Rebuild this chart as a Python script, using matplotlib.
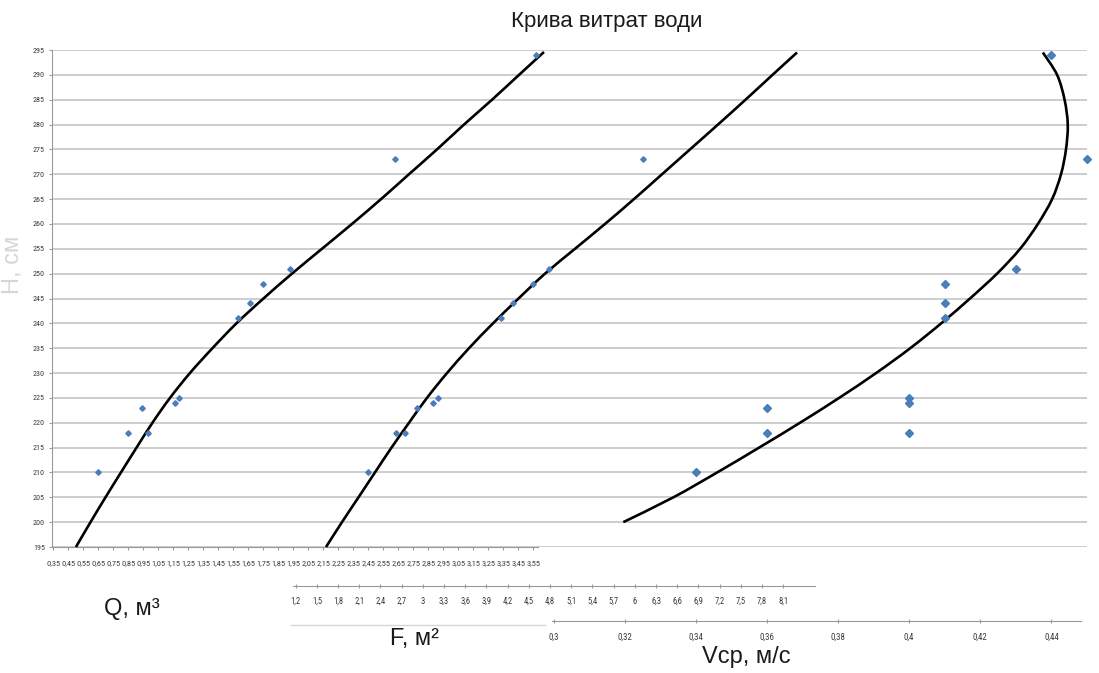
import matplotlib
matplotlib.use("Agg")
import matplotlib.pyplot as plt
from matplotlib import font_manager as fm
from matplotlib.ticker import FixedLocator, FuncFormatter
from matplotlib.lines import Line2D
from matplotlib.path import Path
from matplotlib.patches import PathPatch

# ---------------- data ----------------
h_ticks = [195, 200, 205, 210, 215, 220, 225, 230, 235, 240, 245, 250,
           255, 260, 265, 270, 275, 280, 285, 290, 295]
q_ticks = [0.35, 0.45, 0.55, 0.65, 0.75, 0.85, 0.95, 1.05, 1.15, 1.25, 1.35,
           1.45, 1.55, 1.65, 1.75, 1.85, 1.95, 2.05, 2.15, 2.25, 2.35, 2.45,
           2.55, 2.65, 2.75, 2.85, 2.95, 3.05, 3.15, 3.25, 3.35, 3.45, 3.55]
f_ticks = [1.2, 1.5, 1.8, 2.1, 2.4, 2.7, 3.0, 3.3, 3.6, 3.9, 4.2, 4.5,
           4.8, 5.1, 5.4, 5.7, 6.0, 6.3, 6.6, 6.9, 7.2, 7.5, 7.8, 8.1]
v_ticks = [0.30, 0.32, 0.34, 0.36, 0.38, 0.40, 0.42, 0.44]

# measured points
h_q_pts = [210, 218, 223, 218, 224, 225, 241, 244, 248, 251, 273, 294]
q_pts = [0.65, 0.85, 0.94, 0.98, 1.16, 1.19, 1.58, 1.66, 1.75, 1.93, 2.63, 3.57]

h_f_pts = [210, 218, 218, 223, 224, 225, 241, 244, 248, 251, 273]
f_pts = [2.22, 2.62, 2.75, 2.91, 3.15, 3.21, 4.10, 4.27, 4.56, 4.79, 6.12]

h_v_pts = [210, 223, 218, 225, 224, 218, 248, 244, 241, 251, 294, 273]
v_pts = [0.34, 0.36, 0.36, 0.40, 0.40, 0.40, 0.41, 0.41, 0.41, 0.43, 0.44, 0.45]

# trend curves
h_q_curve = [195, 200, 205, 210, 215, 220, 225, 230, 235, 240, 245, 250,
             255, 260, 265, 270, 275, 280, 285, 290, 294.6]
q_curve = [0.501, 0.598, 0.698, 0.801, 0.905, 1.011, 1.128, 1.261, 1.411,
           1.571, 1.751, 1.941, 2.141, 2.341, 2.535, 2.721, 2.908, 3.088,
           3.275, 3.455, 3.621]

h_f_curve = [195, 200, 205, 210, 215, 220, 225, 230, 235, 240, 245, 250,
             255, 260, 265, 270, 275, 280, 285, 290, 294.5]
f_curve = [1.629, 1.855, 2.089, 2.322, 2.556, 2.804, 3.058, 3.342, 3.653,
           3.993, 4.354, 4.729, 5.153, 5.578, 5.988, 6.385, 6.781, 7.177,
           7.567, 7.949, 8.296]

h_v_curve = [200, 205, 210, 215, 220, 225, 230, 235, 240, 245, 250, 255,
             260, 265, 270, 275, 280, 285, 290, 294.5]
v_curve = [0.3196, 0.3337, 0.3460, 0.3578, 0.3693, 0.3803, 0.3907, 0.4003,
           0.4090, 0.4171, 0.4247, 0.4312, 0.4362, 0.4402, 0.4427, 0.4441,
           0.4446, 0.4437, 0.4416, 0.4376]

title = "Крива витрат води"
y_title = "H, см"
q_title = "Q, м³"
f_title = "F, м²"
v_title = "Vср, м/с"

# ---------------- fonts ----------------
def pick(*names):
    for n in names:
        try:
            fm.findfont(fm.FontProperties(family=n), fallback_to_default=False)
            return n
        except Exception:
            pass
    return "DejaVu Sans"

narrow = pick("Liberation Sans Narrow", "Roboto Condensed", "Liberation Sans")
regular = pick("Liberation Sans", "Roboto", "DejaVu Sans")
tick_scale = 1.0 if narrow != "Liberation Sans" else 0.8

# ---------------- layout ----------------
W, H = 1099, 673
DPI = 100
L, R, T, B = 52, 1087, 50, 547
fig = plt.figure(figsize=(W / DPI, H / DPI), dpi=DPI)
fig.patch.set_facecolor("white")
rect = [L / W, (H - B) / H, (R - L) / W, (B - T) / H]

def px2pt(p):
    return p * 72.0 / DPI

def lims(px0, v0, px_per_unit):
    return (v0 + (L - px0) / px_per_unit, v0 + (R - px0) / px_per_unit)

def fmt(v, pos=None):
    s = "{:g}".format(round(v, 4))
    return s.replace(".", ",")

def smooth_path(xs, ys):
    # Catmull-Rom through the read points, drawn as cubic Bezier segments
    pts = list(zip(xs, ys))
    n = len(pts)
    verts = [pts[0]]
    codes = [Path.MOVETO]
    for i in range(n - 1):
        p0 = pts[i - 1] if i > 0 else pts[i]
        p1 = pts[i]
        p2 = pts[i + 1]
        p3 = pts[i + 2] if i + 2 < n else pts[i + 1]
        c1 = (p1[0] + (p2[0] - p0[0]) / 6.0, p1[1] + (p2[1] - p0[1]) / 6.0)
        c2 = (p2[0] - (p3[0] - p1[0]) / 6.0, p2[1] - (p3[1] - p1[1]) / 6.0)
        verts += [c1, c2, p2]
        codes += [Path.CURVE4] * 3
    return Path(verts, codes)

axis_col = "#9a9a9a"
label_col = "#3a3a3a"
pt_col = "#4a7ebb"

ax = fig.add_axes(rect)
axf = fig.add_axes(rect, sharey=ax)
axv = fig.add_axes(rect, sharey=ax)
for a in (axf, axv):
    a.set_facecolor("none")

ax.set_ylim(195, 295)
ax.yaxis.set_major_locator(FixedLocator(h_ticks))
ax.yaxis.grid(True, color="#c0c0c0", lw=1.1)
ax.set_axisbelow(True)
ax.tick_params(axis="y", direction="out", length=px2pt(3), width=0.8,
               color=axis_col, pad=px2pt(4), labelsize=5.8 * tick_scale,
               labelcolor=label_col)
for lab in ax.get_yticklabels():
    lab.set_family(narrow)

# Q axis
ax.set_xlim(*lims(53.3, 0.35, 150.0))
ax.xaxis.set_major_locator(FixedLocator(q_ticks))
ax.xaxis.set_major_formatter(FuncFormatter(fmt))
ax.tick_params(axis="x", direction="out", length=px2pt(3), width=0.8,
               color=axis_col, pad=px2pt(10), labelsize=6.0 * tick_scale,
               labelcolor=label_col)
for s in ("top", "right"):
    ax.spines[s].set_visible(False)
ax.spines["left"].set_color(axis_col)
ax.spines["bottom"].set_color(axis_col)
ax.spines["bottom"].set_bounds(ax.get_xlim()[0], 3.58)

# F axis
axf.set_xlim(*lims(295.7, 1.2, 70.65))
axf.xaxis.set_major_locator(FixedLocator(f_ticks))
axf.xaxis.set_major_formatter(FuncFormatter(fmt))
axf.tick_params(axis="x", direction="inout", length=px2pt(4), width=0.8,
                color=axis_col, pad=px2pt(9), labelsize=6.2 * tick_scale,
                labelcolor=label_col)
axf.tick_params(axis="y", left=False, labelleft=False)

# V axis
axv.set_xlim(*lims(553.6, 0.30, 3555.7))
axv.xaxis.set_major_locator(FixedLocator(v_ticks))
axv.xaxis.set_major_formatter(FuncFormatter(fmt))
axv.tick_params(axis="x", direction="inout", length=px2pt(4), width=0.8,
                color=axis_col, pad=px2pt(10), labelsize=6.4 * tick_scale,
                labelcolor=label_col)
axv.tick_params(axis="y", left=False, labelleft=False)

for a, off, bnds in ((axf, 38.5, (1.16, 8.55)), (axv, 73.5, (0.2996, 0.4483))):
    for s in ("top", "right", "left"):
        a.spines[s].set_visible(False)
    a.spines["bottom"].set_position(("outward", px2pt(off)))
    a.spines["bottom"].set_color(axis_col)
    a.spines["bottom"].set_bounds(*bnds)

for a in (ax, axf, axv):
    for lab in a.get_xticklabels():
        lab.set_family(narrow)

# ---------------- marks ----------------
for a, xs, ys in ((ax, q_curve, h_q_curve), (axf, f_curve, h_f_curve),
                  (axv, v_curve, h_v_curve)):
    a.add_patch(PathPatch(smooth_path(xs, ys), facecolor="none",
                          edgecolor="black", lw=1.9, clip_on=False,
                          zorder=3, capstyle="butt"))

ax.plot(q_pts, h_q_pts, ls="none", marker="D", ms=2.8, color=pt_col,
        mec=pt_col, clip_on=False, zorder=4)
axf.plot(f_pts, h_f_pts, ls="none", marker="D", ms=2.8, color=pt_col,
         mec=pt_col, clip_on=False, zorder=4)
axv.plot(v_pts, h_v_pts, ls="none", marker="D", ms=3.8, color=pt_col,
         mec=pt_col, clip_on=False, zorder=4)

# ---------------- texts ----------------
fig.text(607 / W, 1 - 21 / H, title, ha="center", va="center",
         fontsize=16, family=regular, color="#1a1a1a")
fig.text(13 / W, 1 - 265 / H, y_title, ha="center", va="center",
         rotation=90, fontsize=17, family=regular, color="#d6d6d6")
fig.text(132 / W, 1 - 609 / H, q_title, ha="center", va="center",
         fontsize=17, family=regular, color="#1a1a1a")
fig.text(414 / W, 1 - 639 / H, f_title, ha="center", va="center",
         fontsize=17, family=regular, color="#1a1a1a")
fig.text(746 / W, 1 - 657 / H, v_title, ha="center", va="center",
         fontsize=17, family=regular, color="#1a1a1a")

# light separator line under the F tick labels
fig.add_artist(Line2D([291 / W, 545 / W], [1 - 625 / H, 1 - 625 / H],
                      transform=fig.transFigure, color="#d6d6d6", lw=1.0))

fig.savefig("out.png", dpi=DPI, facecolor="white")
